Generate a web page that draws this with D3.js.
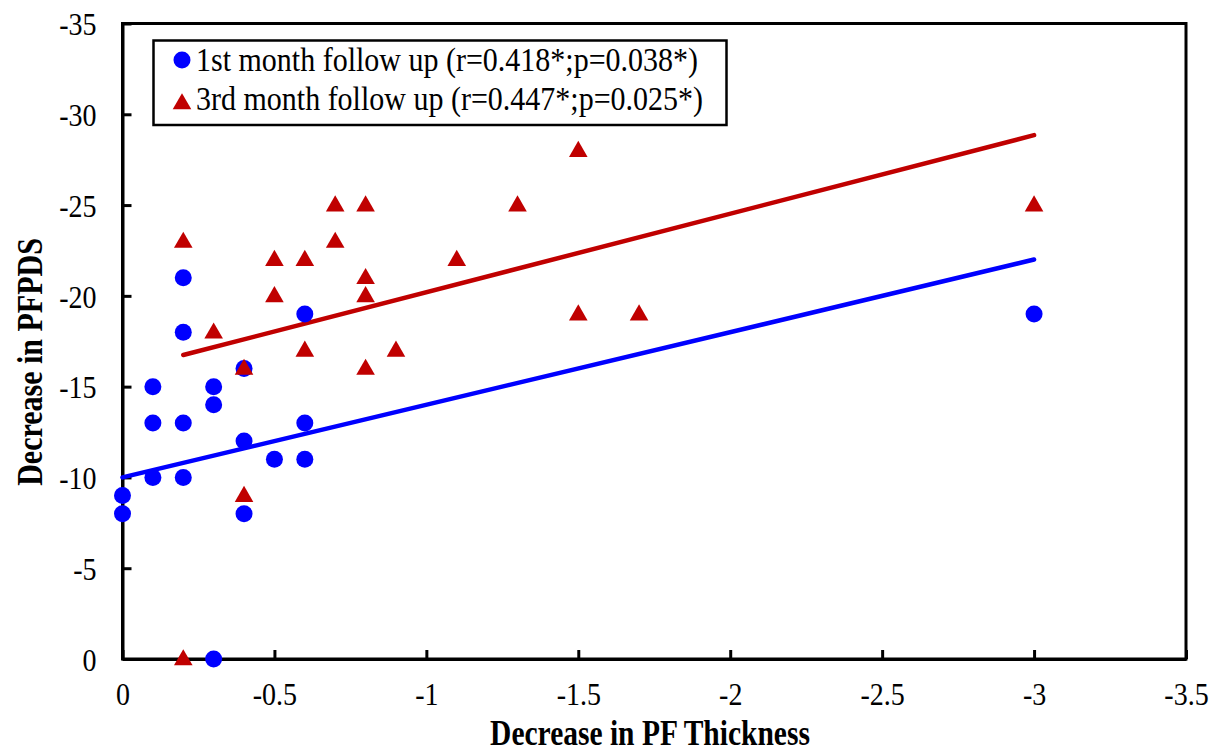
<!DOCTYPE html>
<html>
<head>
<meta charset="utf-8">
<script src="https://cdn.jsdelivr.net/npm/d3@7"></script>
<style>
  body { margin: 0; background: #fff; }
  svg text { font-family: "Times New Roman", "Liberation Serif", serif; fill: #000; }
</style>
</head>
<body>
<svg id="chart" width="1216" height="756"></svg>
<script>
// 1st month follow up (blue circles)
var month1X = [0, 0, -0.1, -0.1, -0.1, -0.2, -0.2, -0.2, -0.2, -0.3, -0.3, -0.3, -0.4, -0.4, -0.4, -0.5, -0.6, -0.6, -0.6, -3];
var month1Y = [-9, -8, -15, -13, -10, -21, -18, -13, -10, -15, -14, 0, -16, -12, -8, -11, -19, -13, -11, -19];

// 3rd month follow up (red triangles)
var month3X = [-0.2, -0.2, -0.3, -0.4, -0.4, -0.5, -0.5, -0.6, -0.6, -0.7, -0.7, -0.8, -0.8, -0.8, -0.8, -0.9, -1.1, -1.3, -1.5, -1.5, -1.7, -3];
var month3Y = [-23, 0, -18, -16, -9, -22, -20, -22, -17, -25, -23, -25, -21, -20, -16, -17, -22, -25, -28, -19, -19, -25];

// fitted lines: [intercept, slope, xStart, xEnd]
var fit1 = [-10, 4, 0, -3];
var fit3 = [-15.875, 4.325, -0.2, -3];

var xTicks = [0, -0.5, -1, -1.5, -2, -2.5, -3, -3.5];
var yTicks = [0, -5, -10, -15, -20, -25, -30, -35];

var legendLabels = ["1st month follow up (r=0.418*;p=0.038*)", "3rd month follow up (r=0.447*;p=0.025*)"];

var blue = "#0000ff", red = "#c00000";

var svg = d3.select("#chart");
var pLeft = 122.5, pRight = 1186, pTop = 23.5, pBottom = 659;

var x = d3.scaleLinear().domain([0, -3.5]).range([pLeft, pRight]);
var y = d3.scaleLinear().domain([0, -35]).range([pBottom, pTop]);

var fmt = function(d) { return String(d); };

// frame
svg.append("rect")
  .attr("x", pLeft).attr("y", pTop)
  .attr("width", pRight - pLeft).attr("height", pBottom - pTop)
  .attr("fill", "none").attr("stroke", "#000").attr("stroke-width", 3);

// axes, ticks pointing inward
var xAxis = svg.append("g")
  .attr("transform", "translate(0," + pBottom + ")")
  .call(d3.axisBottom(x).tickValues(xTicks).tickSizeInner(-9).tickSizeOuter(0).tickFormat(fmt));
xAxis.select(".domain").attr("stroke-width", 3);
xAxis.selectAll(".tick line").attr("stroke-width", 3);
xAxis.selectAll(".tick text")
  .attr("y", 0).attr("dy", 0)
  .attr("transform", "translate(0,46) scale(1,1.15)")
  .style("font-size", "28px");

var yAxis = svg.append("g")
  .attr("transform", "translate(" + pLeft + ",0)")
  .call(d3.axisLeft(y).tickValues(yTicks).tickSizeInner(-9).tickSizeOuter(0).tickFormat(fmt));
yAxis.select(".domain").attr("stroke-width", 3);
yAxis.selectAll(".tick line").attr("stroke-width", 3);
yAxis.selectAll(".tick text")
  .attr("x", 0).attr("dy", "0.35em")
  .attr("transform", "translate(-26,0) scale(1,1.15)")
  .style("font-size", "28px");

// regression lines
function fitLine(f) {
  return [[f[2], f[0] + f[1] * f[2]], [f[3], f[0] + f[1] * f[3]]];
}
var line = d3.line().x(function(d) { return x(d[0]); }).y(function(d) { return y(d[1]); });
svg.append("path").datum(fitLine(fit1)).attr("d", line)
  .attr("fill", "none").attr("stroke", blue).attr("stroke-width", 4.5).attr("stroke-linecap", "round");
svg.append("path").datum(fitLine(fit3)).attr("d", line)
  .attr("fill", "none").attr("stroke", red).attr("stroke-width", 4.5).attr("stroke-linecap", "round");

var tri = d3.symbol().type(d3.symbolTriangle).size(150);

// points
svg.append("g").selectAll("circle")
  .data(d3.zip(month1X, month1Y)).enter().append("circle")
  .attr("cx", function(d) { return x(d[0]); })
  .attr("cy", function(d) { return y(d[1]); })
  .attr("r", 8.5).attr("fill", blue);

svg.append("g").selectAll("path")
  .data(d3.zip(month3X, month3Y)).enter().append("path")
  .attr("d", tri)
  .attr("transform", function(d) { return "translate(" + x(d[0]) + "," + (y(d[1]) + 1) + ")"; })
  .attr("fill", red);

// legend
var lg = svg.append("g");
lg.append("rect").attr("x", 153.5).attr("y", 40.5).attr("width", 573).attr("height", 84.5)
  .attr("fill", "#fff").attr("stroke", "#000").attr("stroke-width", 2.5);
lg.append("circle").attr("cx", 182).attr("cy", 60).attr("r", 8.5).attr("fill", blue);
lg.append("path").attr("d", tri).attr("transform", "translate(182,104)").attr("fill", red);
lg.selectAll("text.lab").data(legendLabels).enter().append("text")
  .attr("class", "lab")
  .attr("transform", function(d, i) { return "translate(196," + (71 + i * 39) + ") scale(1,1.12)"; })
  .style("font-size", "30px")
  .text(function(d) { return d; });

// axis titles
svg.append("text")
  .attr("transform", "translate(650,745) scale(1,1.2)")
  .attr("text-anchor", "middle")
  .style("font-size", "29.5px").style("font-weight", "bold")
  .text("Decrease in PF Thickness");

svg.append("text")
  .attr("transform", "translate(42,362) rotate(-90) scale(1,1.2)")
  .attr("text-anchor", "middle")
  .style("font-size", "30px").style("font-weight", "bold")
  .text("Decrease in PFPDS");
</script>
</body>
</html>
